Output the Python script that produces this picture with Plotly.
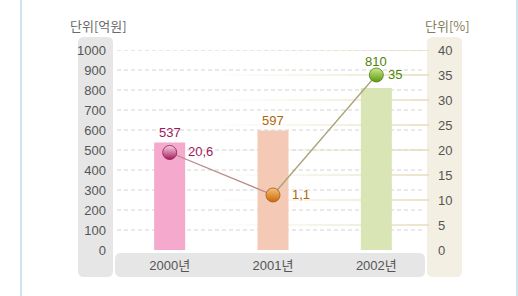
import plotly.graph_objects as go

# ---- data ----
years = ["2000년", "2001년", "2002년"]
amount = [537, 597, 810]            # 단위[억원]
rate_pos = [19.5, 11, 35]           # plotted position of the rate markers (단위[%])
rate_labels = ["20,6", "1,1", "35"]
amount_ticks = [0, 100, 200, 300, 400, 500, 600, 700, 800, 900, 1000]
rate_ticks = [0, 5, 10, 15, 20, 25, 30, 35, 40]

bar_colors = ["#f5a9cc", "#f4c9b5", "#d9e5b5"]
label_colors = ["#9c1a5c", "#b3650c", "#4f8405"]
ball_top = ["#f7d3e4", "#f6c27a", "#cfe88a"]
ball_bot = ["#a81a5e", "#c8680a", "#5a9a10"]
ball_line = ["#8e1c52", "#a8580a", "#4d8010"]

# ---- geometry (pixels) ----
W, H = 518, 296
L, R, T, B = 118, 428, 50, 250
PW, PH = R - L, B - T


def px(x):
    return (x - L) / PW


def py(y):
    return (B - y) / PH


def rrect(x0, y0, x1, y1, r):
    X0, X1 = px(x0), px(x1)
    Y0, Y1 = py(y0), py(y1)   # Y0 top (larger), Y1 bottom
    rx, ry = r / PW, r / PH
    return (f"M {X0+rx},{Y0} L {X1-rx},{Y0} Q {X1},{Y0} {X1},{Y0-ry} "
            f"L {X1},{Y1+ry} Q {X1},{Y1} {X1-rx},{Y1} "
            f"L {X0+rx},{Y1} Q {X0},{Y1} {X0},{Y1+ry} "
            f"L {X0},{Y0-ry} Q {X0},{Y0} {X0+rx},{Y0} Z")


NUMFONT = "Liberation Sans Narrow, Liberation Sans, Noto Sans CJK KR, sans-serif"
KRFONT = "Noto Sans CJK KR, sans-serif"

fig = go.Figure()

fig.add_trace(go.Bar(
    x=years, y=amount, width=0.3,
    marker=dict(color=bar_colors, line=dict(width=0)),
    hoverinfo="skip", showlegend=False,
))

# connecting line segments
seg_colors = ["#b88b8c", "#aaa277"]
for i in range(len(years) - 1):
    fig.add_trace(go.Scatter(
        x=years[i:i + 2], y=rate_pos[i:i + 2], yaxis="y2", mode="lines",
        line=dict(color=seg_colors[i], width=1.3),
        hoverinfo="skip", showlegend=False,
    ))

# balls
for i in range(len(years)):
    fig.add_trace(go.Scatter(
        x=[years[i]], y=[rate_pos[i]], yaxis="y2", mode="markers",
        marker=dict(size=14, color=ball_top[i],
                    gradient=dict(type="vertical", color=ball_bot[i]),
                    line=dict(color=ball_line[i], width=0.8)),
        hoverinfo="skip", showlegend=False,
    ))

shapes = []
# background rounded boxes
shapes.append(dict(type="path", xref="paper", yref="paper", layer="below",
                   path=rrect(78, 37, 113, 277, 6), fillcolor="#e6e6e6", line=dict(width=0)))
shapes.append(dict(type="path", xref="paper", yref="paper", layer="below",
                   path=rrect(115, 253, 425, 277, 6), fillcolor="#e6e6e6", line=dict(width=0)))
shapes.append(dict(type="path", xref="paper", yref="paper", layer="below",
                   path=rrect(427, 37, 462, 277, 6), fillcolor="#f3efe2", line=dict(width=0)))
# blue frame lines
for xx in (21, 517):
    shapes.append(dict(type="line", xref="paper", yref="paper", layer="below",
                       x0=px(xx), x1=px(xx), y0=py(0), y1=py(H),
                       line=dict(color="#cfe4ef", width=2)))
# dashed grid for amount axis
for v in amount_ticks[1:]:
    shapes.append(dict(type="line", xref="paper", yref="y", layer="below",
                       x0=px(117), x1=px(424), y0=v, y1=v,
                       line=dict(color="#d2d2d2", width=1, dash="4px,3px")))
# fading solid lines for rate axis
nseg = 12
xs, xe = 185, 429
for v in rate_ticks[1:]:
    for k in range(nseg):
        a = (k + 1) / nseg
        shapes.append(dict(type="line", xref="paper", yref="y2", layer="below",
                           x0=px(xs + (xe - xs) * k / nseg), x1=px(xs + (xe - xs) * (k + 1) / nseg),
                           y0=v, y1=v,
                           line=dict(color=f"rgba(228,220,190,{a**1.5:.3f})", width=1.5)))

annotations = []
# bar value labels
bar_shift = [1, 1, 17]
for i in range(len(years)):
    annotations.append(dict(x=years[i], y=amount[i], xref="x", yref="y",
                            text=str(amount[i]), showarrow=False, yanchor="bottom",
                            xanchor="center", yshift=bar_shift[i],
                            font=dict(family=NUMFONT, size=13, color=label_colors[i])))
# rate labels
rate_shift = [16, 17, 10]
for i in range(len(years)):
    annotations.append(dict(x=years[i], y=rate_pos[i], xref="x", yref="y2",
                            text=rate_labels[i], showarrow=False, xanchor="left",
                            yanchor="middle", xshift=rate_shift[i], yshift=1,
                            font=dict(family=NUMFONT, size=13, color=label_colors[i])))
# unit titles
annotations.append(dict(x=px(98), y=py(26), xref="paper", yref="paper",
                        xanchor="center", yanchor="middle",
                        text="단위[억원]", showarrow=False,
                        font=dict(family=KRFONT, size=13, color="#6a6a6a")))
annotations.append(dict(x=px(447), y=py(26), xref="paper", yref="paper",
                        xanchor="center", yanchor="middle",
                        text="단위[%]", showarrow=False,
                        font=dict(family=KRFONT, size=13, color="#857c5c")))

fig.update_layout(
    width=W, height=H,
    margin=dict(l=L, r=W - R, t=T, b=H - B, pad=0),
    paper_bgcolor="white", plot_bgcolor="rgba(0,0,0,0)",
    showlegend=False, bargap=0.7,
    shapes=shapes, annotations=annotations,
    xaxis=dict(type="category", showgrid=False, zeroline=False, showline=False,
               ticks="", ticklabelstandoff=6,
               tickfont=dict(family=NUMFONT, size=13, color="#555555"),
               range=[-0.5, 2.5]),
    yaxis=dict(range=[0, 1000], tickvals=amount_ticks, showgrid=False, zeroline=False,
               showline=False, ticks="", ticklabelstandoff=11,
               tickfont=dict(family=NUMFONT, size=13, color="#555555")),
    yaxis2=dict(range=[0, 40], tickvals=rate_ticks, overlaying="y", side="right",
                showgrid=False, zeroline=False, showline=False, ticks="",
                ticklabelstandoff=9,
                tickfont=dict(family=NUMFONT, size=13, color="#555555")),
)

fig.write_html("out.html")
